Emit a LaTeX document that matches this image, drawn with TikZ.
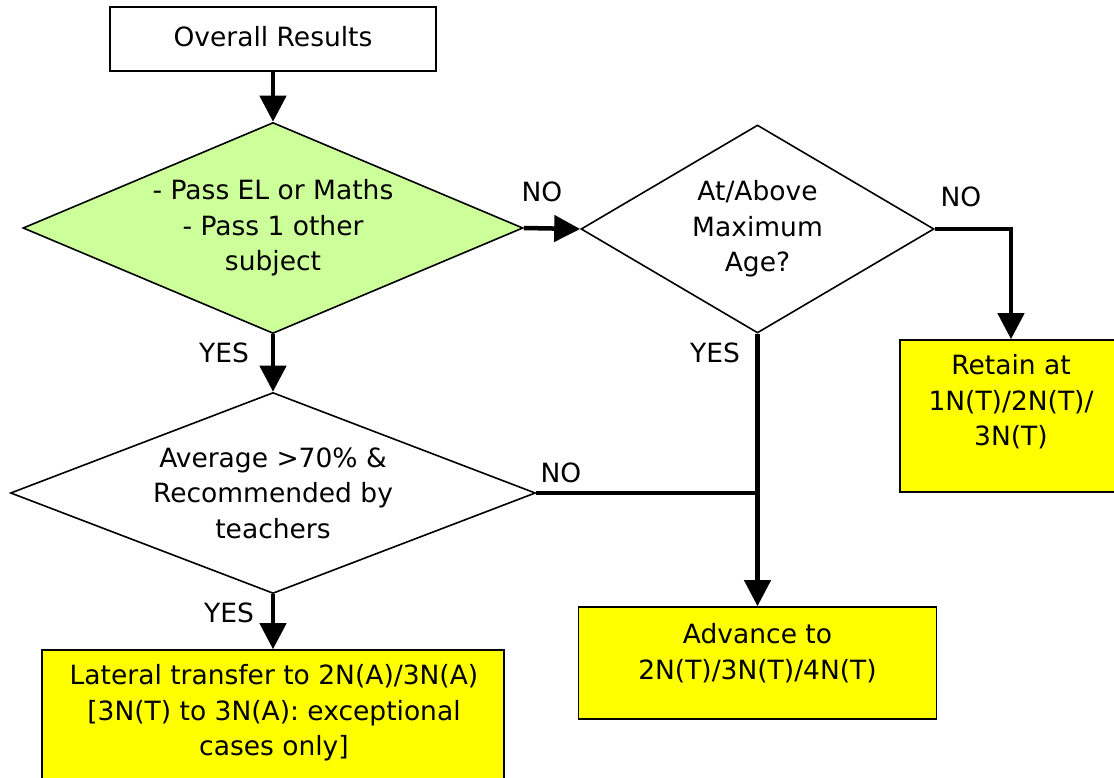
\documentclass[tikz,border=0pt]{standalone}
\usepackage{fontspec}
\setmainfont{DejaVu Sans}
\usetikzlibrary{shapes.geometric,arrows.meta}
\definecolor{dgreen}{RGB}{204,255,153}
\definecolor{byellow}{RGB}{255,255,0}
\begin{document}
\begin{tikzpicture}[x=1pt,y=-1pt,
  every node/.style={font=\fontsize{26.5}{35.5}\selectfont},
  box/.style={draw=black,line width=1.6pt,rectangle,inner sep=0pt},
  dia/.style={draw=black,line width=1.6pt,diamond,inner sep=0pt},
  txt/.style={align=center,inner sep=0pt},
  lab/.style={inner sep=0pt},
  conn/.style={line width=4.5pt},
  arr/.style={conn,-{Triangle[width=26pt,length=26pt]}}]
\useasboundingbox (0,0) rectangle (1114,778);
% nodes
\node[box,minimum width=326pt,minimum height=64pt] (start) at (273,39) {};
\node[txt] (startt) at (273,37) {Overall Results};
\node[dia,fill=dgreen,minimum width=500pt,minimum height=211pt] (d1) at (273,228) {};
\node[txt] (d1t) at (273,228) {- Pass EL or Maths\\- Pass 1 other\\subject};
\node[dia,minimum width=353pt,minimum height=208pt] (d2) at (757.5,229) {};
\node[txt] (d2t) at (757.5,229) {At/Above\\Maximum\\Age?};
\node[dia,minimum width=525pt,minimum height=201pt] (d3) at (273,493) {};
\node[txt] (d3t) at (273,493) {Average >70\% \&\\Recommended by\\teachers};
\node[box,fill=byellow,minimum width=222pt,minimum height=152pt] (retain) at (1011,416) {};
\node[txt] (retaint) at (1011,402) {Retain at\\1N(T)/2N(T)/\\3N(T)};
\node[box,fill=byellow,minimum width=462pt,minimum height=130pt] (lateral) at (273,715) {};
\node[txt] (lateralt) at (274,713) {Lateral transfer to 2N(A)/3N(A)\\{}[3N(T) to 3N(A): exceptional\\cases only]};
\node[box,fill=byellow,minimum width=358pt,minimum height=112pt] (adv) at (757.5,663) {};
\node[txt] (advt) at (757.5,653) {Advance to\\2N(T)/3N(T)/4N(T)};
% labels
\node[lab] (l1) at (542,192) {NO};
\node[lab] (l2) at (961,197) {NO};
\node[lab] (l3) at (715,353) {YES};
\node[lab] (l4) at (561,473) {NO};
\node[lab] (l5) at (224,353) {YES};
\node[lab] (l6) at (229,613) {YES};
% connectors
\coordinate (j) at (d2.south |- d3.east);
\draw[arr] (start.south) -- (d1.north);
\draw[arr] (d1.east) -- (d2.west);
\draw[arr] (d2.east) -| (retain.north);
\draw[arr] (d1.south) -- (d3.north);
\draw[arr] (d3.south) -- (lateral.north);
\draw[arr] (d2.south) -- (adv.north);
\draw[conn] (d3.east) -- (j);
\end{tikzpicture}
\end{document}
